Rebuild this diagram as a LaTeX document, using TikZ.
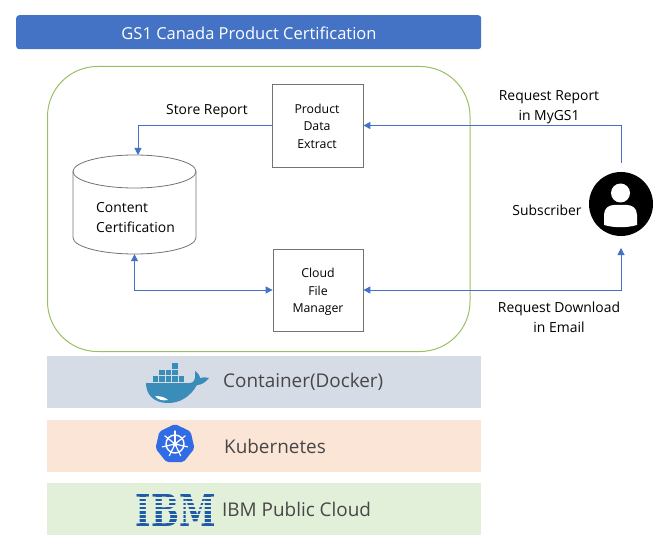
\documentclass[tikz,border=0pt]{standalone}
\usepackage{xcolor}
\usepackage{fontspec}
\usepackage{tikz}
\usetikzlibrary{calc}
\usetikzlibrary{arrows.meta}
\usetikzlibrary{shapes.geometric}
\setmainfont{Open Sans}
\newfontfamily\logofont{DejaVu Serif}
\definecolor{r68g114b196}{rgb}{0.266667,0.447059,0.768627}
\definecolor{r214g220b229}{rgb}{0.839216,0.862745,0.898039}
\definecolor{r251g229b214}{rgb}{0.984314,0.898039,0.839216}
\definecolor{r226g240b217}{rgb}{0.886275,0.941176,0.850980}
\definecolor{r155g192b100}{rgb}{0.607843,0.752941,0.392157}
\definecolor{r58g141b184}{rgb}{0.227451,0.552941,0.721569}
\definecolor{r50g108b229}{rgb}{0.196078,0.423529,0.898039}
\definecolor{r30g90b170}{rgb}{0.117647,0.352941,0.666667}
\tikzset{
  boxnode/.style={draw=black!55,line width=0.8pt,inner sep=0pt,
    minimum width=91pt,minimum height=83pt},
  boxtext/.style={align=center,inner sep=0pt,font=\fontsize{12.3}{17.5}\selectfont},
  labelnode/.style={align=center,inner sep=0pt,font=\fontsize{13.9}{20}\selectfont},
  barnode/.style={anchor=north west,inner sep=0pt,minimum width=434pt,minimum height=52pt},
  bartext/.style={anchor=west,inner sep=0pt,text=black!72,font=\fontsize{18.9}{22}\selectfont},
  linkline/.style={draw=r68g114b196,line width=1pt,{Triangle[length=7pt,width=7pt]}-{Triangle[length=7pt,width=7pt]}},
  linkone/.style={draw=r68g114b196,line width=1pt,-{Triangle[length=7pt,width=7pt]}}
}
\begin{document}
\begin{tikzpicture}[x=1pt,y=-1pt]
  \useasboundingbox (0,0) rectangle (668,545);

  % Title bar
  \node [anchor=north west,fill=r68g114b196,rounded corners=3pt,inner sep=0pt,minimum width=465pt,minimum height=34pt] (titlebar) at (16,15) {};
  \node [text=white,inner sep=0pt,font=\fontsize{16.5}{20}\selectfont] (titletext) at (249,33) {GS1 Canada Product Certification};

  % Green frame
  \node [anchor=north west,draw=r155g192b100,line width=1pt,rounded corners=50pt,inner sep=0pt,minimum width=422.5pt,minimum height=285pt] (frame) at (47,66) {};

  % Boxes
  \node [boxnode] (extract) at (317.5,125.5) {};
  \node [boxtext] (extracttext) at (317,126) {Product\\Data\\Extract};
  \node [boxnode,minimum width=90pt,minimum height=82pt] (manager) at (318,290) {};
  \node [boxtext] (managertext) at (318,292) {Cloud\\File\\Manager};

  % Cylinder, drawn by hand round its node
  \node [inner sep=0pt,minimum width=123pt,minimum height=99pt] (storage) at (134.5,204.5) {};
  \draw [draw=black!55,line width=0.8pt] (73,171.5) -- (73,237.5) arc (180:0:61.5 and 16.5) -- (196,171.5);
  \draw [draw=black!55,line width=0.8pt] (134.5,171.5) ellipse (61.5 and 16.5);
  \node [labelnode,align=left,anchor=west] (storagetext) at (96,218) {Content\\Certification};

  % Subscriber circle and person
  \node [circle,fill=black,inner sep=0pt,minimum size=64pt] (subscriber) at (621,204) {};
  \node [circle,fill=white,inner sep=0pt,minimum size=19pt] (head) at (620.5,193) {};
  \fill [white] (604,225) -- (604,215) .. controls (604,208) and (609,205) .. (614,205) -- (627,205) .. controls (632,205) and (637,208) .. (637,215) -- (637,225) .. controls (626,228) and (615,228) .. (604,225);

  % Free ends beside the subscriber
  \coordinate (reporttop) at (621,163);
  \coordinate (downloadend) at (621,248);
  \coordinate (storein) at (138,155);

  % Connectors
  \draw [linkone] (extract.west) -| (storein);
  \draw [linkline] (storage.south) |- (manager.west);
  \draw [linkone] (reporttop) |- (extract.east);
  \draw [linkline] (manager.east) -| (downloadend);

  % Labels
  \node [labelnode] (storelabel) at (207,111) {Store Report};
  \node [labelnode] (reportlabel) at (549,107) {Request Report\\in MyGS1};
  \node [labelnode] (subscriberlabel) at (547,210) {Subscriber};
  \node [labelnode] (downloadlabel) at (559,317) {Request Download\\in Email};

  % Docker bar
  \node [barnode,fill=r214g220b229] (dockerbar) at (47,356) {};
  \node [bartext] (dockertext) at (223,382) {Container(Docker)};
  \fill [r58g141b184] (146,383) -- (190,383) .. controls (194,383) and (196,379) .. (195,371) .. controls (198,373) and (200,376) .. (200,378) .. controls (203,377) and (206,377) .. (209,378) .. controls (205,383) and (201,385) .. (197,385) .. controls (190,397) and (180,403) .. (168,403) .. controls (153,403) and (146,394) .. (146,383);
  \fill [white] (155,396) .. controls (160,396) and (165,397) .. (168,400) .. controls (163,401) and (158,400) .. (155,396);
  \foreach \boxx in {152.5,159,165.5,172,178.5}
    \fill [r58g141b184] (\boxx,376) rectangle +(5.6,5.6);
  \foreach \boxx in {159,165.5,172}
    \fill [r58g141b184] (\boxx,369.5) rectangle +(5.6,5.6);
  \fill [r58g141b184] (172,363) rectangle +(5.6,5.6);

  % Kubernetes bar
  \node [barnode,fill=r251g229b214] (kubebar) at (47,420) {};
  \node [bartext] (kubetext) at (224,446) {Kubernetes};
  \node [regular polygon,regular polygon sides=7,fill=r50g108b229,rounded corners=2pt,inner sep=0pt,minimum size=40pt] (kubelogo) at (175,444) {};
  \draw [white,line width=1.4pt] (kubelogo.center) circle (9);
  \fill [white] (kubelogo.center) circle (2.4);
  \foreach \spoke in {0,...,6}
    \draw [white,line width=1.2pt,line cap=round] (kubelogo.center) -- ++(-90+\spoke*51.43:13);

  % IBM bar
  \node [barnode,fill=r226g240b217] (ibmbar) at (47,483) {};
  \node [bartext] (ibmtext) at (222,509) {IBM Public Cloud};
  \node [anchor=north west,inner sep=0pt,text=r30g90b170] (ibmlogo) at (135.5,494) {\resizebox{80pt}{32pt}{\logofont\bfseries IBM}};
  \foreach \stripe in {0,...,6}
    \fill [r226g240b217] (134,497.1+\stripe*4.1) rectangle (217,498.7+\stripe*4.1);

\end{tikzpicture}
\end{document}
